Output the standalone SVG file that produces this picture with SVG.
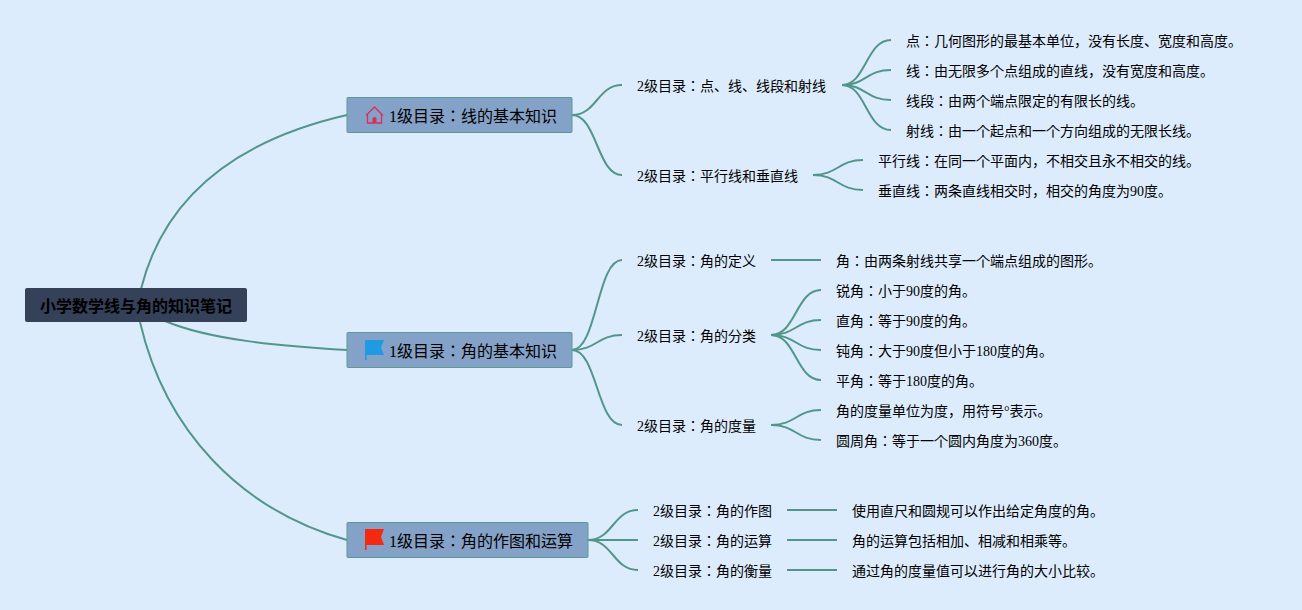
<svg xmlns="http://www.w3.org/2000/svg" width="1302" height="610" viewBox="0 0 1302 610">
<style>
text{font-family:"Liberation Serif","Noto Sans CJK JP",serif;font-size:14px;fill:#000}
.l1{font-size:16px}
.root{font-size:16px;font-weight:bold}
.b1{fill:#84a1c7;stroke:#5b9a94;stroke-width:1}
.c{fill:none;stroke:#52968a;stroke-width:2}
</style>
<rect width="1302" height="610" fill="#dcecfd"/>
<g id="connectors">
<path class="c" d="M141 289C162 205 225 143 347 115"/>
<path class="c" d="M165 321C210 340 280 346 347 350"/>
<path class="c" d="M140 322C165 430 240 510 347 540"/>
<path class="c" d="M572 115C597 115 597 85 622 85"/>
<path class="c" d="M572 115C597 115 597 175 622 175"/>
<path class="c" d="M842 85C866 85 866 40 891 40"/>
<path class="c" d="M842 85C866 85 866 70 891 70"/>
<path class="c" d="M842 85C866 85 866 100 891 100"/>
<path class="c" d="M842 85C866 85 866 130 891 130"/>
<path class="c" d="M813 175C838 175 838 160 863 160"/>
<path class="c" d="M813 175C838 175 838 190 863 190"/>
<path class="c" d="M572 350C597 350 597 260 622 260"/>
<path class="c" d="M572 350C597 350 597 335 622 335"/>
<path class="c" d="M572 350C597 350 597 425 622 425"/>
<path class="c" d="M771 260H821"/>
<path class="c" d="M771 335C796 335 796 290 821 290"/>
<path class="c" d="M771 335C796 335 796 320 821 320"/>
<path class="c" d="M771 335C796 335 796 350 821 350"/>
<path class="c" d="M771 335C796 335 796 380 821 380"/>
<path class="c" d="M771 425C796 425 796 410 821 410"/>
<path class="c" d="M771 425C796 425 796 440 821 440"/>
<path class="c" d="M588 540C613 540 613 510 638 510"/>
<path class="c" d="M588 540H638"/>
<path class="c" d="M588 540C613 540 613 570 638 570"/>
<path class="c" d="M787 510H837"/>
<path class="c" d="M787 540H837"/>
<path class="c" d="M787 570H837"/>
</g>
<g id="root"><rect x="25" y="288" width="222" height="34" rx="2" fill="#344159"/><text class="root" x="40" y="312">小学数学线与角的知识笔记</text></g>
<g id="t1"><rect class="b1" x="347" y="97.500" width="225" height="35" rx="1"/>
<path d="M366 115.500L374.500 107L383 115.500M367.500 114V123H381.500V114" fill="none" stroke="#dc2d5a" stroke-width="1.300"/><rect x="372.500" y="117" width="4" height="6" rx="1.500" fill="#dc2d5a"/>
<text class="l1" x="389" y="122">1级目录：线的基本知识</text></g>
<g id="t2"><rect class="b1" x="347" y="332.500" width="225" height="35" rx="1"/>
<path d="M365 340H384L381 347.500L384 355H366.500V360H365Z" fill="#1f9be6"/>
<text class="l1" x="389" y="357">1级目录：角的基本知识</text></g>
<g id="t3"><rect class="b1" x="347" y="522.500" width="241" height="35" rx="1"/>
<path d="M365 529H384L381 537L384 545H366.500V550H365Z" fill="#f5290f"/>
<text class="l1" x="389" y="547">1级目录：角的作图和运算</text></g>
<g id="n1"><text x="637" y="91">2级目录：点、线、线段和射线</text></g>
<g id="n2"><text x="637" y="181">2级目录：平行线和垂直线</text></g>
<g id="n3"><text x="637" y="266">2级目录：角的定义</text></g>
<g id="n4"><text x="637" y="341">2级目录：角的分类</text></g>
<g id="n5"><text x="637" y="431">2级目录：角的度量</text></g>
<g id="n6"><text x="653" y="516">2级目录：角的作图</text></g>
<g id="n7"><text x="653" y="546">2级目录：角的运算</text></g>
<g id="n8"><text x="653" y="576">2级目录：角的衡量</text></g>
<g id="a1"><text x="906" y="46">点：几何图形的最基本单位，没有长度、宽度和高度。</text></g>
<g id="a2"><text x="906" y="76">线：由无限多个点组成的直线，没有宽度和高度。</text></g>
<g id="a3"><text x="906" y="106">线段：由两个端点限定的有限长的线。</text></g>
<g id="a4"><text x="906" y="136">射线：由一个起点和一个方向组成的无限长线。</text></g>
<g id="a5"><text x="878" y="166">平行线：在同一个平面内，不相交且永不相交的线。</text></g>
<g id="a6"><text x="878" y="196">垂直线：两条直线相交时，相交的角度为90度。</text></g>
<g id="a7"><text x="836" y="266">角：由两条射线共享一个端点组成的图形。</text></g>
<g id="a8"><text x="836" y="296">锐角：小于90度的角。</text></g>
<g id="a9"><text x="836" y="326">直角：等于90度的角。</text></g>
<g id="a10"><text x="836" y="356">钝角：大于90度但小于180度的角。</text></g>
<g id="a11"><text x="836" y="386">平角：等于180度的角。</text></g>
<g id="a12"><text x="836" y="416">角的度量单位为度，用符号°表示。</text></g>
<g id="a13"><text x="836" y="446">圆周角：等于一个圆内角度为360度。</text></g>
<g id="a14"><text x="852" y="516">使用直尺和圆规可以作出给定角度的角。</text></g>
<g id="a15"><text x="852" y="546">角的运算包括相加、相减和相乘等。</text></g>
<g id="a16"><text x="852" y="576">通过角的度量值可以进行角的大小比较。</text></g>
</svg>
